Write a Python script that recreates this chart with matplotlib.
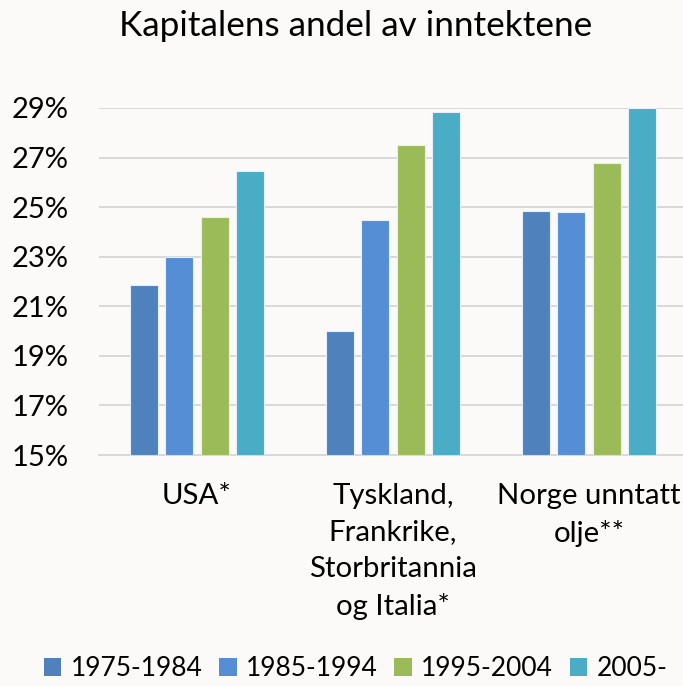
import numpy as np
import matplotlib
matplotlib.use("Agg")
from matplotlib import pyplot as plt
from matplotlib.patches import Patch
from matplotlib.ticker import FuncFormatter

plt.rcParams["font.family"] = ["Lato", "DejaVu Sans"]

categories = [
    "USA*",
    "Tyskland,\nFrankrike,\nStorbritannia\nog Italia*",
    "Norge unntatt\nolje**",
]
periods = ["1975-1984", "1985-1994", "1995-2004", "2005-"]

share_1975 = [21.85, 20.0, 24.85]
share_1985 = [23.0, 24.5, 24.8]
share_1995 = [24.6, 27.5, 26.8]
share_2005 = [26.45, 28.85, 29.0]

COLORS = ["#4F81BD", "#558ED5", "#9BBB59", "#4BACC6"]
BG = "#FBFAF9"
GRID = "#D9D9D9"

fig = plt.figure(figsize=(6.83, 6.86), dpi=100, facecolor=BG)
ax = fig.add_axes([99 / 683, 231 / 686, 588 / 683, 347 / 686], facecolor=BG)

x = np.arange(len(categories))
step = 0.181
width = 0.143
series = [share_1975, share_1985, share_1995, share_2005]
for i, vals in enumerate(series):
    ax.bar(
        x + (i - 1.5) * step,
        np.array(vals) - 15,
        bottom=15,
        width=width,
        color=COLORS[i],
        edgecolor="#E6EEF8",
        linewidth=0.8,
        zorder=3,
        label=periods[i],
    )

ax.set_xlim(-0.5, 2.5)
ax.set_ylim(15, 29)
ax.set_yticks(np.arange(15, 30, 2))
ax.yaxis.set_major_formatter(FuncFormatter(lambda v, _: f"{v:.0f}%"))
ax.grid(axis="y", color=GRID, linewidth=1.4, zorder=0)
for s in ["top", "right", "left"]:
    ax.spines[s].set_visible(False)
ax.spines["bottom"].set_color(GRID)
ax.spines["bottom"].set_linewidth(1.4)

ax.set_xticks(x)
ax.set_xticklabels(categories, fontsize=21.2, linespacing=1.5)
ax.tick_params(axis="x", length=0, pad=20)
ax.tick_params(axis="y", length=0, pad=22, labelsize=21)

fig.text(356 / 683, 1 - 26 / 686, "Kapitalens andel av inntektene",
         ha="center", va="center", fontsize=25.3)

handles = [Patch(facecolor=c, edgecolor="none") for c in COLORS]
fig.legend(
    handles,
    periods,
    loc="center left",
    bbox_to_anchor=(44 / 683, 1 - 669 / 686),
    ncol=4,
    frameon=False,
    fontsize=19,
    handlelength=0.66,
    handleheight=0.66,
    handletextpad=0.36,
    columnspacing=0.62,
    borderpad=0,
    borderaxespad=0,
)

fig.savefig("out.png", dpi=100, facecolor=BG)
